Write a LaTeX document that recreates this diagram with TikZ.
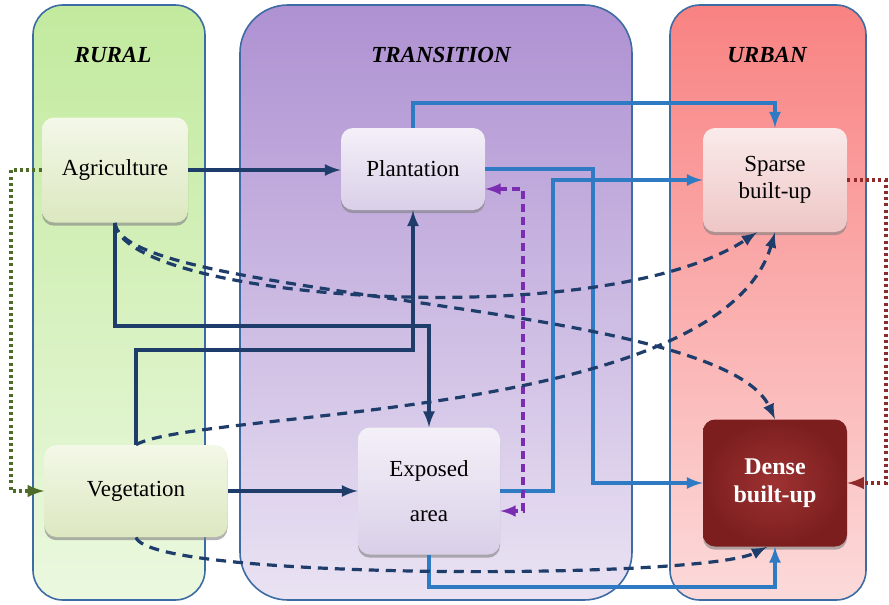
\documentclass[tikz,border=0pt]{standalone}
\usepackage{fontspec}
\setmainfont{Liberation Serif}
\usetikzlibrary{shadows}

\definecolor{navy}{HTML}{1E3D6B}
\definecolor{flowblue}{HTML}{2E7BC4}
\definecolor{flowpurple}{HTML}{7A2DB0}
\definecolor{dotgreen}{HTML}{4E6B2A}
\definecolor{dotred}{HTML}{8E2A2A}
\definecolor{colline}{HTML}{3D6BA3}
\definecolor{rurtop}{HTML}{C2EA9E}
\definecolor{rurbot}{HTML}{EBF8DF}
\definecolor{trantop}{HTML}{AE91D2}
\definecolor{tranbot}{HTML}{EAE3F3}
\definecolor{urbtop}{HTML}{F98282}
\definecolor{urbbot}{HTML}{FCDADA}
\definecolor{greentop}{HTML}{F3F8E8}
\definecolor{greenbot}{HTML}{DCE8C0}
\definecolor{lilactop}{HTML}{F4F0F8}
\definecolor{lilacbot}{HTML}{D9CFE8}
\definecolor{pinktop}{HTML}{FAEAEA}
\definecolor{pinkbot}{HTML}{EEC6C6}
\definecolor{denseout}{HTML}{7C1E1E}
\definecolor{densein}{HTML}{9E3232}

\begin{document}
\begin{tikzpicture}[x=0.5pt,y=-0.5pt,>=latex,
  box/.style={rounded corners=6pt, inner sep=0pt, align=center,
    font=\fontsize{11.5}{13.5}\selectfont,
    drop shadow={shadow xshift=0pt,shadow yshift=-1.6pt,opacity=0.6}},
  greenbox/.style={box, top color=greentop, bottom color=greenbot},
  lilacbox/.style={box, top color=lilactop, bottom color=lilacbot},
  pinkbox/.style={box, top color=pinktop, bottom color=pinkbot},
  darkbox/.style={box, shading=radial, inner color=densein, outer color=denseout,
    text=white, font=\fontsize{12}{14}\selectfont\bfseries},
  coltitle/.style={font=\fontsize{11.5}{13.5}\selectfont\bfseries\itshape},
  column/.style={draw=colline, line width=0.8pt},
  solid flow/.style={->, navy, line width=1.7pt},
  blue flow/.style={->, flowblue, line width=1.7pt},
  dash flow/.style={->, navy, line width=1.6pt, dash pattern=on 5pt off 3.5pt},
  dot flow/.style={->, line width=1.8pt, dash pattern=on 1.5pt off 1.6pt}]
  \useasboundingbox (0,0) rectangle (889,605);

  % columns
  \path[column, top color=rurtop, bottom color=rurbot, rounded corners=15pt] (33,5) rectangle (205,600);
  \path[column, top color=trantop, bottom color=tranbot, rounded corners=24pt] (240,5) rectangle (632,600);
  \path[column, top color=urbtop, bottom color=urbbot, rounded corners=15pt] (670,5) rectangle (866,600);
  \node[coltitle] (rural) at (113,55) {RURAL};
  \node[coltitle] (trans) at (441,55) {TRANSITION};
  \node[coltitle] (urban) at (767,55) {URBAN};

  % land cover boxes
  \node[greenbox, minimum width=73pt, minimum height=52.5pt] (agri) at (115,170) {Agriculture};
  \node[greenbox, minimum width=91.5pt, minimum height=46pt] (veg) at (136,491) {Vegetation};
  \node[lilacbox, minimum width=72pt, minimum height=41pt] (plant) at (413,169) {Plantation};
  \node[lilacbox, minimum width=71pt, minimum height=63.5pt] (expo) at (429,491) {Exposed\\[9pt]area};
  \node[pinkbox, minimum width=72pt, minimum height=52pt] (spar) at (775,180) {Sparse\\built-up};
  \node[darkbox, minimum width=72pt, minimum height=63.5pt] (dense) at (775,483) {Dense\\built-up};

  % routing helpers
  \coordinate (lx) at (11,0);
  \coordinate (rx) at (886,0);
  \coordinate (ay) at (0,326);
  \coordinate (vy) at (0,350);
  \coordinate (ty) at (0,103);
  \coordinate (by) at (0,587);
  \coordinate (r1) at (553,0);
  \coordinate (r2) at (593,0);
  \coordinate (rp) at (523,0);
  \coordinate (pe) at ([yshift=-10pt]expo.east);

  % solid flows
  \draw[solid flow] (agri.east) -- (plant.west |- agri.east);
  \draw[solid flow] (veg.east) -- (expo.west |- veg.east);
  \draw[solid flow] (agri.south) |- (expo.north |- ay) -- (expo.north);
  \draw[solid flow] (veg.north) |- (plant.south |- vy) -- (plant.south);
  \draw[blue flow] (plant.north) |- (spar.north |- ty) -- (spar.north);
  \draw[blue flow] (plant.east) -| (r2 |- dense.west) -- (dense.west);
  \draw[blue flow] (expo.east) -| (r1 |- spar.west) -- (spar.west);
  \draw[blue flow] (expo.south) |- (dense.south |- by) -- (dense.south);
  \draw[<->, flowpurple, line width=1.6pt, dash pattern=on 4pt off 2.5pt]
    ([yshift=-10pt]plant.east) -| (rp |- pe) -- (pe);

  % dashed flows
  \draw[dash flow] (agri.south) .. controls (122,300) and (600,335) .. ([xshift=-9pt]spar.south);
  \draw[dash flow] (agri.south) .. controls (122,300) and (720,300) .. (dense.north);
  \draw[dash flow] (veg.north) .. controls (200,410) and (720,420) .. (spar.south);
  \draw[dash flow] (veg.south) .. controls (150,580) and (700,580) .. ([xshift=-4pt]dense.south);

  % dotted flows
  \draw[dot flow, dotgreen] (agri.west) -- (lx |- agri.west) |- (veg.west);
  \draw[dot flow, dotred] (spar.east) -- (rx |- spar.east) |- (dense.east);
\end{tikzpicture}
\end{document}
